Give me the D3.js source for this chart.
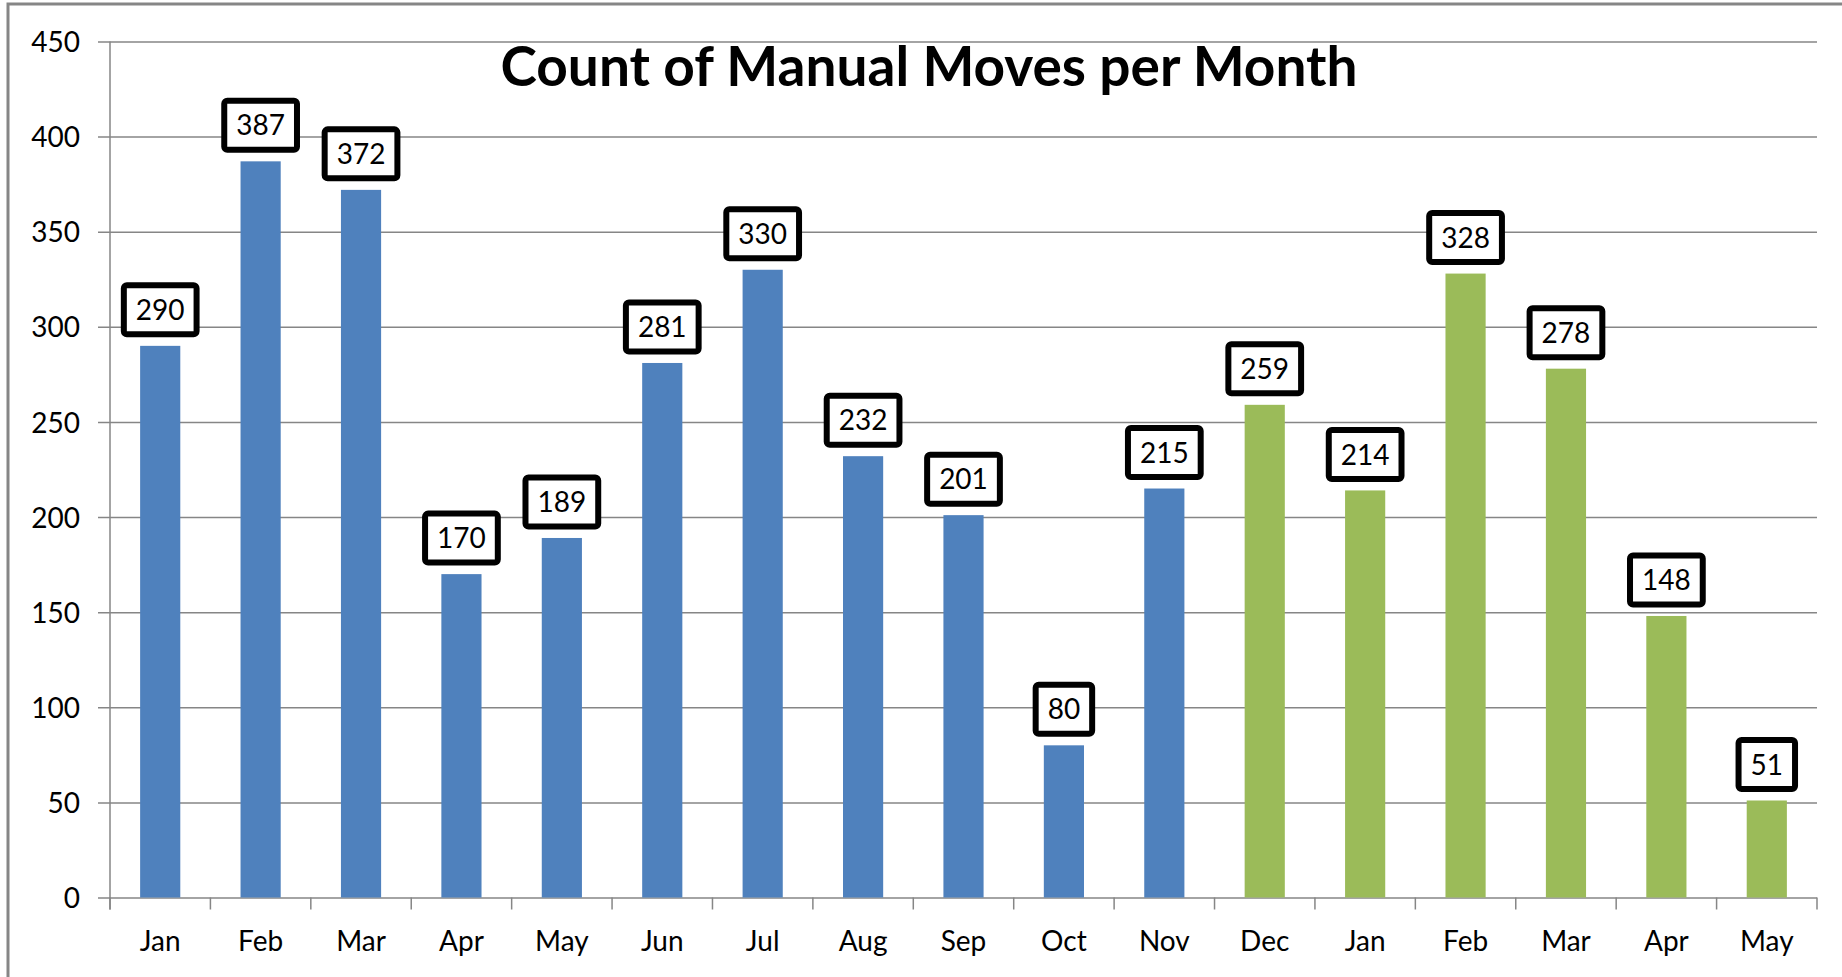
<!DOCTYPE html>
<html><head><meta charset="utf-8">
<script src="https://cdn.jsdelivr.net/npm/d3@7"></script>
<style>
html,body{margin:0;padding:0;background:#fff;overflow:hidden;}
svg{display:block;}
text{font-family:Lato,"Open Sans",sans-serif;fill:#000;}
</style></head>
<body>
<svg id="c" width="1842" height="977"></svg>
<script>
const title = "Count of Manual Moves per Month";
const months = ["Jan","Feb","Mar","Apr","May","Jun","Jul","Aug","Sep","Oct","Nov","Dec","Jan","Feb","Mar","Apr","May"];
const values = [290,387,372,170,189,281,330,232,201,80,215,259,214,328,278,148,51];
const series = ["blue","blue","blue","blue","blue","blue","blue","blue","blue","blue","blue","green","green","green","green","green","green"];
const yTicks = [0,50,100,150,200,250,300,350,400,450];
const colors = {blue:"#4F81BD", green:"#9BBB59"};

(function(){
const svg = d3.select("#c");
const W = 1842, H = 977;
const pL = 110, pR = 1817, pT = 41.5, pB = 897.5;

// outer frame
svg.append("rect").attr("x",8).attr("y",4).attr("width",W).attr("height",H)
  .attr("fill","#fff").attr("stroke","#868686").attr("stroke-width",3);

const x = d3.scaleBand().domain(d3.range(months.length)).range([pL,pR]).paddingInner(0).paddingOuter(0);
const y = d3.scaleLinear().domain([0,450]).range([pB,pT]);
const bw = x.bandwidth()/2.5;

// gridlines + y axis
const ya = svg.append("g").attr("transform",`translate(${pL},0)`)
  .call(d3.axisLeft(y).tickValues(yTicks).tickSize(12).tickPadding(18).tickFormat(d3.format("d")));
ya.select(".domain").attr("stroke","#868686").attr("stroke-width",1.5).attr("d",`M0,${pT}V${pB+12}`);
ya.selectAll(".tick line").attr("stroke","#868686").attr("stroke-width",1.5).attr("x2",pR-pL).attr("x1",-12);
ya.selectAll(".tick text").style("font-size","28px").attr("fill","#000").attr("dy","0.36em");

// x axis
const xa = svg.append("g").attr("transform",`translate(0,${pB})`)
  .call(d3.axisBottom(x).tickFormat(i=>months[i]).tickSize(0).tickPadding(34));
xa.select(".domain").remove();
xa.selectAll(".tick text").style("font-size","28px").attr("fill","#000");
const bounds = d3.range(months.length+1).map(i => i<months.length ? x(i) : pR);
svg.append("g").selectAll("line").data(bounds).join("line")
  .attr("x1",d=>d).attr("x2",d=>d).attr("y1",pB).attr("y2",pB+12)
  .attr("stroke","#868686").attr("stroke-width",1.5);

// bars
svg.append("g").selectAll("rect").data(values).join("rect")
  .attr("x",(d,i)=>x(i)+x.bandwidth()/2-bw/2)
  .attr("width",bw)
  .attr("y",d=>y(d))
  .attr("height",d=>pB-y(d))
  .attr("fill",(d,i)=>colors[series[i]]);

// labels
const lg = svg.append("g");
values.forEach((v,i)=>{
  const cx = x(i)+x.bandwidth()/2;
  const g = lg.append("g");
  const r = g.append("rect");
  const t = g.append("text").text(v).attr("x",cx).attr("text-anchor","middle")
    .style("font-size","28px");
  const tw = t.node().getComputedTextLength();
  const boxW = tw + 24, boxH = 49;
  const by = y(v) - 11.5 - boxH;
  r.attr("x",cx-boxW/2).attr("y",by).attr("width",boxW).attr("height",boxH)
    .attr("rx",3).attr("fill","#fff").attr("stroke","#000").attr("stroke-width",6);
  t.attr("y",by+boxH/2).attr("dy","0.36em");
});

// title
svg.append("text").attr("x",929).attr("y",86).attr("text-anchor","middle")
  .style("font-size","55px").style("font-weight","bold").text(title);
})();
</script>
</body></html>
